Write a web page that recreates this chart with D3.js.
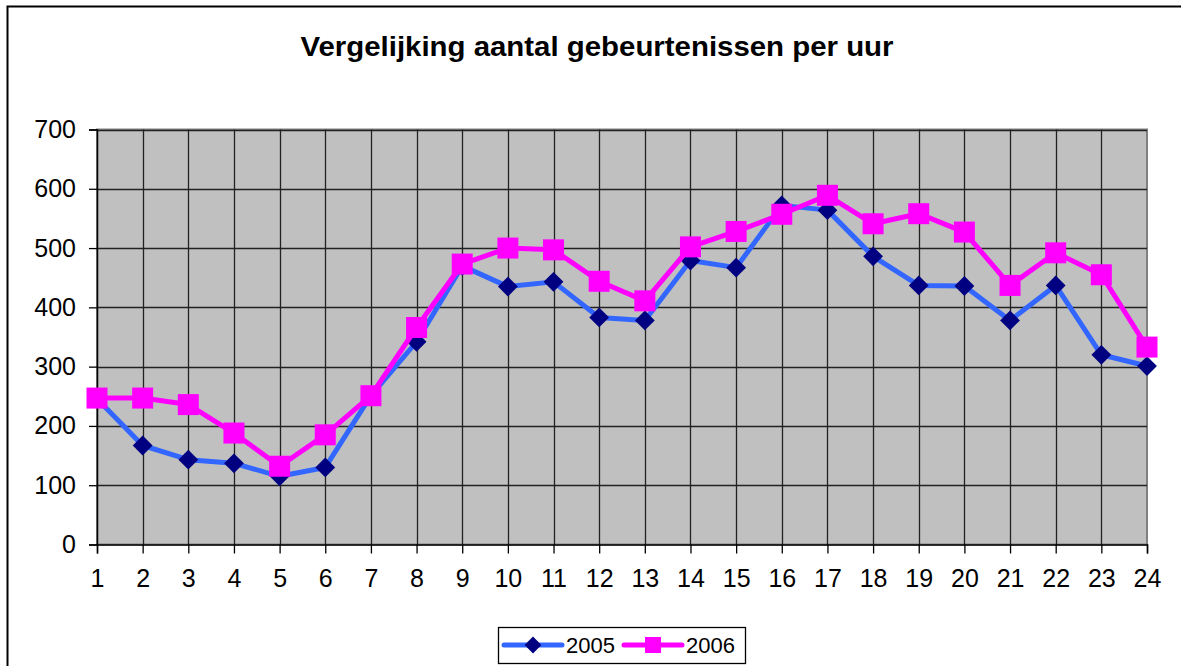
<!DOCTYPE html>
<html>
<head>
<meta charset="utf-8">
<script src="https://cdn.jsdelivr.net/npm/d3@7"></script>
<style>
  body { margin: 0; background: #fff; }
  svg { display: block; font-family: "Liberation Sans", Arial, sans-serif; }
</style>
</head>
<body>
<div id="chart"></div>
<script>
const title = "Vergelijking aantal gebeurtenissen per uur";
const hours = d3.range(1, 25);
const yTicks = [0, 100, 200, 300, 400, 500, 600, 700];
const values2005 = [246, 167, 143, 137, 115, 130, 251, 342, 470, 435, 443, 383, 378, 479, 467, 572, 564, 486, 437, 436, 378, 437, 320, 301];
const values2006 = [247, 247, 236, 188, 132, 185, 251, 366, 473, 500, 497, 444, 411, 502, 528, 557, 589, 541, 558, 527, 437, 492, 455, 333];
const seriesNames = ["2005", "2006"];

const W = 1181, H = 666;
const svg = d3.select("#chart").append("svg")
    .attr("width", W)
    .attr("height", H);

// outer chart frame (runs off the right and bottom edge)
svg.append("rect")
    .attr("x", 7.5).attr("y", 6.5)
    .attr("width", 1300).attr("height", 800)
    .attr("fill", "#fff")
    .attr("stroke", "#000")
    .attr("stroke-width", 2);

svg.append("text")
    .attr("x", 597).attr("y", 56)
    .attr("text-anchor", "middle")
    .attr("font-size", 28)
    .attr("font-weight", "bold")
    .attr("textLength", 593)
    .attr("lengthAdjust", "spacingAndGlyphs")
    .text(title);

const plotL = 97, plotR = 1147, plotT = 129.5, plotB = 544.5;
const x = d3.scalePoint().domain(hours).range([plotL, plotR]);
const y = d3.scaleLinear().domain([0, 700]).range([plotB, plotT]);

// plot background
svg.append("rect")
    .attr("x", plotL).attr("y", plotT)
    .attr("width", plotR - plotL).attr("height", plotB - plotT)
    .attr("fill", "#c0c0c0")
    .attr("stroke", "#808080")
    .attr("stroke-width", 2);

// grid
svg.append("g").selectAll("line")
    .data(yTicks.slice(1))
    .join("line")
    .attr("x1", plotL).attr("x2", plotR)
    .attr("y1", d => Math.round(y(d)) + 0.5).attr("y2", d => Math.round(y(d)) + 0.5)
    .attr("stroke", "#222").attr("stroke-width", 1.3);
svg.append("g").selectAll("line")
    .data(hours.slice(1, -1))
    .join("line")
    .attr("x1", d => Math.round(x(d)) + 0.5).attr("x2", d => Math.round(x(d)) + 0.5)
    .attr("y1", plotT).attr("y2", plotB)
    .attr("stroke", "#222").attr("stroke-width", 1.3);

// axes
const yAxis = svg.append("g")
    .attr("transform", `translate(${plotL},0)`)
    .call(d3.axisLeft(y).tickValues(yTicks).tickSize(8).tickPadding(13));
const xAxis = svg.append("g")
    .attr("transform", `translate(0,${plotB})`)
    .call(d3.axisBottom(x).tickSize(9).tickPadding(16));
[yAxis, xAxis].forEach(g => {
    g.selectAll("text").attr("font-size", 25).attr("fill", "#000")
        .attr("font-family", "Liberation Sans, Arial, sans-serif");
    g.selectAll("line").attr("stroke", "#000").attr("stroke-width", 1.3);
    g.select(".domain").attr("stroke", "#000").attr("stroke-width", 1.5);
});

const line = d3.line().x((d, i) => x(hours[i])).y(d => y(d));
const diamond = d3.symbol().type(d3.symbolDiamond2).size(250);

// 2005
svg.append("path").datum(values2005)
    .attr("d", line).attr("fill", "none")
    .attr("stroke", "#3366ff").attr("stroke-width", 5).attr("stroke-linejoin", "round");
svg.append("g").selectAll("path")
    .data(values2005)
    .join("path")
    .attr("d", diamond)
    .attr("transform", (d, i) => `translate(${x(hours[i])},${y(d)})`)
    .attr("fill", "#000080");

// 2006
svg.append("path").datum(values2006)
    .attr("d", line).attr("fill", "none")
    .attr("stroke", "#ff00ff").attr("stroke-width", 5).attr("stroke-linejoin", "round");
svg.append("g").selectAll("rect")
    .data(values2006)
    .join("rect")
    .attr("x", (d, i) => x(hours[i]) - 10.5)
    .attr("y", d => y(d) - 10.5)
    .attr("width", 21).attr("height", 21)
    .attr("fill", "#ff00ff");

// legend
const lg = svg.append("g");
lg.append("rect")
    .attr("x", 498.5).attr("y", 627.5)
    .attr("width", 247).attr("height", 36)
    .attr("fill", "#fff").attr("stroke", "#000").attr("stroke-width", 1.3);
const legendItems = [
    { name: seriesNames[0], x0: 504, color: "#3366ff", mark: "diamond" },
    { name: seriesNames[1], x0: 624, color: "#ff00ff", mark: "square" }
];
legendItems.forEach(it => {
    const cy = 645;
    lg.append("line")
        .attr("x1", it.x0).attr("x2", it.x0 + 58)
        .attr("y1", cy).attr("y2", cy)
        .attr("stroke", it.color).attr("stroke-width", 5).attr("stroke-linecap", "round");
    if (it.mark === "diamond") {
        lg.append("path")
            .attr("d", d3.symbol().type(d3.symbolDiamond2).size(180))
            .attr("transform", `translate(${it.x0 + 29},${cy})`)
            .attr("fill", "#000080");
    } else {
        lg.append("rect")
            .attr("x", it.x0 + 29 - 8).attr("y", cy - 8)
            .attr("width", 16).attr("height", 16)
            .attr("fill", "#ff00ff");
    }
    lg.append("text")
        .attr("x", it.x0 + 62).attr("y", cy + 8)
        .attr("font-size", 22)
        .text(it.name);
});
</script>
</body>
</html>
